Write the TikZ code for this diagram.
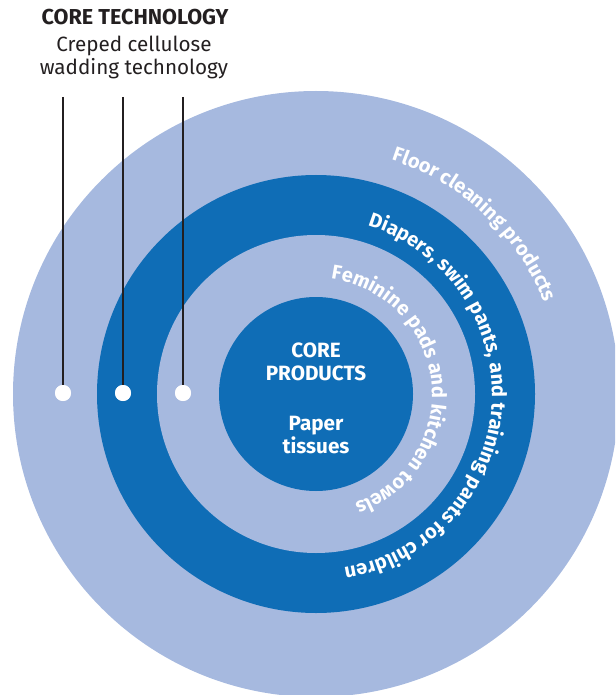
\documentclass[tikz,border=0pt]{standalone}
\usepackage{fontspec}
\setmainfont{Fira Sans}
\usepackage{tikz}
\usepackage{xcolor}
\usetikzlibrary{decorations.text}
\definecolor{ring_light}{HTML}{A6B9DF}
\definecolor{ring_dark}{HTML}{0F6DB6}
\definecolor{label_ink}{HTML}{231F20}
\tikzset{every picture/.style={x=0.75pt,y=0.75pt}}
\tikzstyle{pin_dot} =
  [ circle
  , fill=white
  , minimum size=12pt
  , inner sep=0pt
  ]
\tikzstyle{pin_line} =
  [ draw=label_ink
  , line width=2.2pt
  ]
\tikzstyle{core_text} =
  [ text=white
  , align=center
  , font=\bfseries\fontsize{15.5}{17.25}\selectfont
  ]
\tikzstyle{heading} =
  [ text=label_ink
  , align=center
  ]
\tikzstyle{ring_text} =
  [ decorate
  , decoration={text along path, text align=center, text color=white}
  ]
\def\RingFont{\bfseries\fontsize{15}{15}\selectfont}

\begin{document}
\begin{tikzpicture}
    \useasboundingbox (0,-695) rectangle (615,0);
    \clip (0,-695) rectangle (615,0);
    \coordinate (hub) at (316,-394);

    % rings, outside in
    \fill[ring_light] (hub) circle[radius=303];
    \fill[ring_dark]  (hub) circle[radius=219];
    \fill[ring_light] (hub) circle[radius=159];
    \fill[ring_dark]  (hub) circle[radius=97];

    \path[ring_text, decoration={text={|\RingFont|Floor cleaning products}}]
      (hub) ++(107:246) arc[start angle=107, end angle=-13, radius=246];
    \path[ring_text, decoration={text={|\RingFont|Diapers, swim pants, and training pants for children}}]
      (hub) ++(96:176) arc[start angle=96, end angle=-104, radius=176];
    \path[ring_text, decoration={text={|\RingFont|Feminine pads and kitchen towels}}]
      (hub) ++(101:116) arc[start angle=101, end angle=-89, radius=116];

    \node[core_text] (core_title) at (316,-362) {CORE\\PRODUCTS};
    \node[core_text] (core_item)  at (316,-435) {Paper\\tissues};

    \node[heading, font=\bfseries\fontsize{16.2}{18}\selectfont] (tech_title) at (135,-17) {CORE TECHNOLOGY};
    \node[heading, font=\fontsize{15.5}{17.25}\selectfont]       (tech_text)  at (134,-57) {Creped cellulose\\wadding technology};

    \coordinate (top_outer)  at (63,-97);
    \coordinate (top_middle) at (123,-97);
    \coordinate (top_inner)  at (183,-97);
    \node[pin_dot] (pin_outer)  at (63,-393)  {};
    \node[pin_dot] (pin_middle) at (123,-393) {};
    \node[pin_dot] (pin_inner)  at (183,-393) {};
    \draw[pin_line] (top_outer)  -- (pin_outer.center);
    \draw[pin_line] (top_middle) -- (pin_middle.center);
    \draw[pin_line] (top_inner)  -- (pin_inner.center);
    \node[pin_dot] at (pin_outer)  {};
    \node[pin_dot] at (pin_middle) {};
    \node[pin_dot] at (pin_inner)  {};
\end{tikzpicture}
\end{document}
